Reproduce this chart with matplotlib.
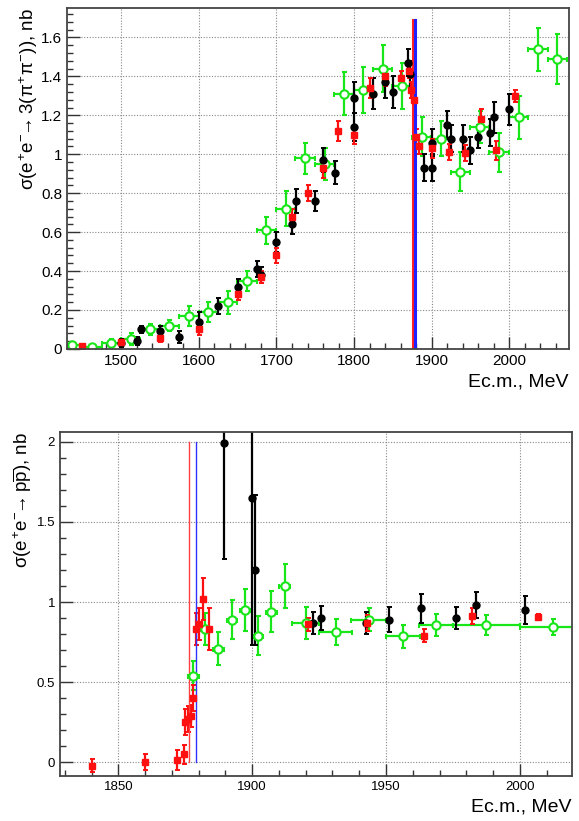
import matplotlib
matplotlib.use('Agg')
import matplotlib.pyplot as plt
from matplotlib.ticker import MultipleLocator

plt.rcParams['font.family'] = ['Liberation Sans', 'DejaVu Sans']
plt.rcParams['mathtext.fontset'] = 'custom'
plt.rcParams['mathtext.rm'] = 'Liberation Sans'
plt.rcParams['mathtext.it'] = 'Liberation Sans'
plt.rcParams['mathtext.sf'] = 'Liberation Sans'
plt.rcParams['mathtext.fallback'] = 'stixsans'

# thresholds: 2 m_p and 2 m_n
E_PP = 1876.5
E_NN = 1879.1

# ---- e+e- -> 3(pi+pi-) ----
six_green_x = [1437, 1462, 1487, 1512, 1537, 1562, 1587, 1612, 1637, 1662, 1687, 1712, 1737,
               1762, 1787, 1812, 1837, 1862, 1887, 1912, 1937, 1962, 1987, 2012, 2037, 2062]
six_green_y = [0.02, 0.01, 0.03, 0.05, 0.10, 0.12, 0.17, 0.19, 0.24, 0.35, 0.61, 0.72, 0.98,
               0.95, 1.31, 1.33, 1.44, 1.35, 1.09, 1.08, 0.91, 1.14, 1.01, 1.19, 1.54, 1.49]
six_green_ey = [0.01, 0.01, 0.02, 0.03, 0.03, 0.03, 0.05, 0.05, 0.06, 0.05, 0.07, 0.09, 0.08,
                0.08, 0.11, 0.12, 0.12, 0.12, 0.10, 0.09, 0.10, 0.08, 0.10, 0.11, 0.11, 0.13]
six_green_ex = [12.5] * len(six_green_x)

six_black_x = [1500, 1520, 1525, 1550, 1575, 1600, 1625, 1650, 1675, 1680, 1700, 1720, 1725,
               1750, 1760, 1775, 1800, 1800, 1825, 1840, 1850, 1870, 1872, 1890, 1900, 1900,
               1920, 1925, 1940, 1950, 1960, 1975, 1980, 2000]
six_black_y = [0.03, 0.04, 0.10, 0.09, 0.06, 0.14, 0.22, 0.32, 0.41, 0.38, 0.55, 0.64, 0.76,
               0.76, 0.97, 0.905, 1.14, 1.29, 1.31, 1.37, 1.32, 1.47, 1.41, 0.93, 0.93, 1.06,
               1.15, 1.08, 1.08, 1.02, 1.09, 1.11, 1.19, 1.23]
six_black_ey = [0.02, 0.02, 0.02, 0.03, 0.03, 0.05, 0.04, 0.04, 0.04, 0.04, 0.05, 0.05, 0.06,
                0.05, 0.06, 0.06, 0.07, 0.08, 0.08, 0.08, 0.08, 0.07, 0.07, 0.07, 0.07, 0.07,
                0.07, 0.07, 0.07, 0.07, 0.06, 0.07, 0.08, 0.08]

six_red_x = [1449, 1500, 1550, 1600, 1650, 1680, 1700, 1720, 1740, 1760, 1779, 1800, 1820,
             1840, 1860, 1871, 1874, 1877, 1880, 1884, 1900, 1922, 1943, 1964, 1983, 2007]
six_red_y = [0.017, 0.037, 0.055, 0.10, 0.28, 0.37, 0.48, 0.68, 0.80, 0.93, 1.12, 1.10, 1.34,
             1.40, 1.39, 1.43, 1.33, 1.28, 1.09, 1.04, 1.03, 1.01, 1.005, 1.18, 1.02, 1.30]
six_red_ey = [0.01, 0.01, 0.02, 0.03, 0.03, 0.03, 0.04, 0.04, 0.04, 0.05, 0.05, 0.05, 0.05,
              0.05, 0.04, 0.04, 0.04, 0.03, 0.04, 0.04, 0.05, 0.04, 0.04, 0.05, 0.05, 0.03]

# ---- e+e- -> p pbar ----
pp_red_x = [1840, 1860, 1871.8, 1874.6, 1875, 1876, 1877, 1877.8, 1879, 1880.2, 1881.5, 1884,
            1921, 1943, 1964, 1982, 2006.7]
pp_red_y = [-0.02, 0.005, 0.015, 0.05, 0.25, 0.27, 0.29, 0.40, 0.83, 0.86, 1.02, 0.83,
            0.86, 0.87, 0.79, 0.91, 0.905]
pp_red_ey = [0.04, 0.05, 0.06, 0.06, 0.08, 0.08, 0.07, 0.08, 0.10, 0.10, 0.13, 0.13,
             0.04, 0.05, 0.04, 0.05, 0.02]

pp_black_x = [1889.6, 1899.8, 1901, 1922.8, 1925.6, 1942.4, 1951, 1963, 1976.3, 1983.7, 2002]
pp_black_y = [1.99, 1.65, 1.20, 0.87, 0.90, 0.87, 0.89, 0.96, 0.90, 0.98, 0.95]
pp_black_ey = [0.72, 0.92, 0.47, 0.07, 0.075, 0.07, 0.08, 0.09, 0.07, 0.08, 0.09]

pp_green_x = [1878, 1882.5, 1887.3, 1892.5, 1897.5, 1902.2, 1907.2, 1912.2, 1920, 1931.2,
              1943.5, 1956.2, 1968.7, 1987.5, 2012.5]
pp_green_y = [0.54, 0.83, 0.71, 0.89, 0.95, 0.79, 0.94, 1.10, 0.87, 0.815, 0.89, 0.785,
              0.855, 0.857, 0.845]
pp_green_ey = [0.09, 0.10, 0.10, 0.12, 0.13, 0.12, 0.13, 0.14, 0.10, 0.08, 0.07, 0.07,
               0.07, 0.06, 0.05]
pp_green_ex = [2, 2, 2, 2, 2, 2, 2, 2, 5, 6.2, 6.5, 6.3, 6.3, 12.5, 12.5]

GREEN = '#19e619'
RED = '#ff1010'


def style_axis(ax, xmaj, xmin, ymaj, ymin, labelsize):
    '''
    ROOT-like frame: inward ticks on left and bottom, dotted grid at major ticks
    '''
    ax.xaxis.set_major_locator(MultipleLocator(xmaj))
    ax.xaxis.set_minor_locator(MultipleLocator(xmin))
    ax.yaxis.set_major_locator(MultipleLocator(ymaj))
    ax.yaxis.set_minor_locator(MultipleLocator(ymin))
    ax.tick_params(which='both', direction='in', top=False, right=False,
                   labelsize=labelsize, color='#333333')
    ax.tick_params(which='major', length=9, width=1.0)
    ax.tick_params(which='minor', length=4.5, width=1.0)
    ax.grid(True, which='major', color='#888888', linestyle=(0, (1, 1.5)), linewidth=0.8)
    ax.set_axisbelow(True)
    for s in ax.spines.values():
        s.set_color('#444444')
        s.set_linewidth(1.3)


def draw_points(ax, x, y, ey, ex=None, kind='black', ms=5):
    '''
    Draw one data set with error bars in the chosen marker style
    '''
    if kind == 'black':
        kw = dict(fmt='o', color='black', mfc='black', mec='black', ms=ms)
    elif kind == 'red':
        kw = dict(fmt='s', color=RED, mfc=RED, mec=RED, ms=ms)
    else:
        kw = dict(fmt='o', color=GREEN, mfc='white', mec=GREEN, mew=1.5, ms=ms + 1)
    ax.errorbar(x, y, yerr=ey, xerr=ex, elinewidth=1.6, capsize=1.8, capthick=1.4, **kw)


fig = plt.figure(figsize=(5.79, 8.21), dpi=100)

# upper panel
ax1 = fig.add_axes([0.1157, 0.575, 0.867, 0.415])
style_axis(ax1, 100, 20, 0.2, 0.04, 11)
draw_points(ax1, six_green_x, six_green_y, six_green_ey, six_green_ex, kind='green')
draw_points(ax1, six_black_x, six_black_y, six_black_ey, kind='black')
draw_points(ax1, six_red_x, six_red_y, six_red_ey, kind='red')
ax1.plot([E_PP, E_PP], [0, 1.69], color='#ff2020', lw=2.2)
ax1.plot([E_NN, E_NN], [0, 1.69], color='#2020ff', lw=2.2)
ax1.set_xlim(1430, 2077)
ax1.set_ylim(0, 1.75)
ax1.set_yticks([0, 0.2, 0.4, 0.6, 0.8, 1.0, 1.2, 1.4, 1.6])
ax1.set_yticklabels(['0', '0.2', '0.4', '0.6', '0.8', '1', '1.2', '1.4', '1.6'])
ax1.set_ylabel(r'$\sigma(e^{+}e^{-}\!\!\rightarrow 3(\pi^{+}\pi^{-}))$, nb', fontsize=13.5,
               loc='top')
ax1.yaxis.set_label_coords(-0.054, 1.0)
ax1.set_xlabel('Ec.m., MeV', fontsize=14, loc='right')

# lower panel
ax2 = fig.add_axes([0.1036, 0.0548, 0.884, 0.419])
style_axis(ax2, 50, 10, 0.5, 0.1, 9.5)
draw_points(ax2, pp_green_x, pp_green_y, pp_green_ey, pp_green_ex, kind='green')
draw_points(ax2, pp_black_x, pp_black_y, pp_black_ey, kind='black')
draw_points(ax2, pp_red_x, pp_red_y, pp_red_ey, kind='red')
ax2.plot([E_PP, E_PP], [0, 2.0], color='#ff4040', lw=1.0)
ax2.plot([E_NN, E_NN], [0, 2.0], color='#3030ff', lw=1.0)
ax2.set_xlim(1828.2, 2019.4)
ax2.set_ylim(-0.085, 2.06)
ax2.set_yticks([0, 0.5, 1.0, 1.5, 2.0])
ax2.set_yticklabels(['0', '0.5', '1', '1.5', '2'])
ax2.set_ylabel(r'$\sigma(e^{+}e^{-}\!\!\rightarrow p\overline{p})$, nb', fontsize=13.5,
               loc='top')
ax2.yaxis.set_label_coords(-0.05, 1.0)
ax2.set_xlabel('Ec.m., MeV', fontsize=14, loc='right')

fig.savefig('out.png', dpi=100)
